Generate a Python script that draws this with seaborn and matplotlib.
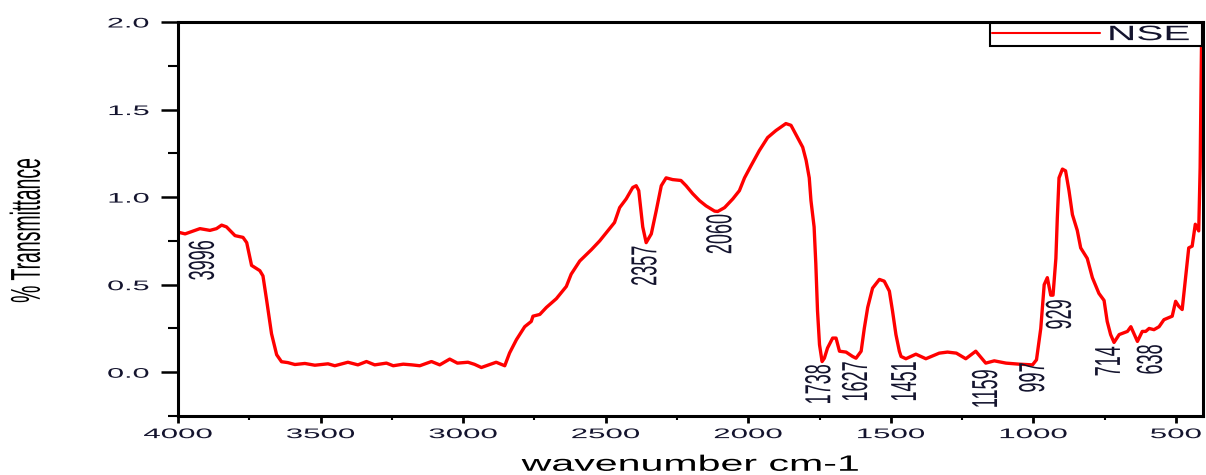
import matplotlib
matplotlib.use("Agg")
import numpy as np
import pandas as pd
import matplotlib.pyplot as plt
import seaborn as sns
from matplotlib.patheffects import AbstractPathEffect
from matplotlib.transforms import Affine2D
from matplotlib.ticker import MultipleLocator

# ---------------- data ----------------
wavenumber = [4000, 3975, 3958, 3923, 3905, 3888, 3865, 3847, 3830, 3800, 3772, 3759,
              3742, 3713, 3702, 3689, 3672, 3654, 3637, 3615, 3590, 3555, 3520, 3474,
              3450, 3404, 3369, 3339, 3310, 3269, 3245, 3210, 3180, 3152, 3111, 3082,
              3047, 3020, 2983, 2960, 2936, 2884, 2854, 2837, 2813, 2784, 2761, 2755,
              2731, 2708, 2673, 2638, 2621, 2591, 2550, 2521, 2486, 2469, 2451, 2428,
              2405, 2393, 2384, 2370, 2358, 2340, 2323, 2305, 2288, 2265, 2236, 2218,
              2195, 2171, 2148, 2118, 2107, 2083, 2054, 2031, 2013, 1990, 1961, 1932,
              1903, 1868, 1850, 1827, 1809, 1797, 1786, 1780, 1769, 1763, 1757, 1750,
              1741, 1733, 1722, 1704, 1692, 1680, 1657, 1634, 1622, 1604, 1593, 1581,
              1564, 1540, 1523, 1505, 1494, 1482, 1470, 1464, 1447, 1412, 1377, 1330,
              1301, 1270, 1237, 1202, 1167, 1137, 1096, 1050, 1003, 989, 974, 962,
              951, 939, 931, 921, 916, 910, 898, 887, 875, 863, 846, 834,
              811, 793, 770, 752, 741, 729, 717, 699, 670, 658, 647, 635,
              618, 606, 594, 577, 559, 542, 513, 501, 490, 478, 466, 455,
              443, 432, 420, 415, 411, 408]
transmittance = [0.80, 0.79, 0.80, 0.82, 0.815, 0.81, 0.82, 0.84, 0.83, 0.78, 0.77, 0.74,
                 0.61, 0.58, 0.55, 0.41, 0.22, 0.10, 0.06, 0.055, 0.044, 0.05, 0.04, 0.048,
                 0.037, 0.057, 0.042, 0.061, 0.042, 0.052, 0.037, 0.046, 0.042, 0.037, 0.061, 0.042,
                 0.075, 0.052, 0.057, 0.045, 0.027, 0.057, 0.037, 0.11, 0.186, 0.26, 0.29, 0.32,
                 0.33, 0.37, 0.42, 0.49, 0.56, 0.635, 0.70, 0.75, 0.82, 0.855, 0.94, 0.99,
                 1.055, 1.065, 1.037, 0.83, 0.74, 0.79, 0.92, 1.065, 1.11, 1.10, 1.095, 1.065,
                 1.02, 0.98, 0.95, 0.92, 0.918, 0.94, 0.99, 1.037, 1.11, 1.18, 1.266, 1.34,
                 1.38, 1.42, 1.41, 1.34, 1.285, 1.21, 1.11, 0.98, 0.83, 0.62, 0.35, 0.157,
                 0.061, 0.08, 0.138, 0.195, 0.195, 0.12, 0.115, 0.09, 0.08, 0.12, 0.25, 0.37,
                 0.48, 0.53, 0.52, 0.463, 0.35, 0.215, 0.12, 0.09, 0.077, 0.103, 0.077, 0.109,
                 0.115, 0.109, 0.077, 0.12, 0.052, 0.065, 0.052, 0.046, 0.042, 0.071, 0.25, 0.50,
                 0.54, 0.44, 0.44, 0.65, 0.88, 1.11, 1.16, 1.15, 1.037, 0.90, 0.81, 0.71,
                 0.65, 0.54, 0.45, 0.41, 0.29, 0.215, 0.17, 0.215, 0.233, 0.26, 0.22, 0.176,
                 0.233, 0.233, 0.25, 0.243, 0.26, 0.30, 0.32, 0.405, 0.377, 0.358, 0.54, 0.71,
                 0.72, 0.845, 0.807, 1.17, 1.74, 2.2]
series_name = "NSE"

peak_labels = ["3996", "2357", "2060", "1738", "1627", "1451", "1159", "997", "929", "714", "638"]
x_ticks = [4000, 3500, 3000, 2500, 2000, 1500, 1000, 500]
y_ticks = [0.0, 0.5, 1.0, 1.5, 2.0]
x_title = "wavenumber cm-1"
y_title = "% Transmittance"

# where each peak label's top end sits (data coordinates)
label_x = [3912, 2360, 2097, 1750, 1621, 1449, 1165, 1000, 906, 734, 587]
label_y = [0.755, 0.721, 0.905, 0.044, 0.061, 0.061, 0.016, 0.056, 0.417, 0.147, 0.159]


# ---------------- horizontal text stretch (the reference is wide-stretched) --------------
class HStretch(AbstractPathEffect):
    def __init__(self, sx, anchor="center"):
        super().__init__()
        self.sx = sx
        self.anchor = anchor

    def draw_path(self, renderer, gc, tpath, affine, rgbFace=None):
        ext = tpath.get_extents(affine)
        if self.anchor == "left":
            cx = ext.x0
        elif self.anchor == "right":
            cx = ext.x1
        else:
            cx = 0.5 * (ext.x0 + ext.x1)
        new_aff = affine + Affine2D().translate(-cx, 0).scale(self.sx, 1.0).translate(cx, 0)
        renderer.draw_path(gc, tpath, new_aff, rgbFace)


TXT = "#14142e"

sns.set_style("ticks")
plt.rcParams["font.family"] = ["Liberation Sans", "DejaVu Sans"]

fig, ax = plt.subplots(figsize=(12.06, 4.75), dpi=100)
fig.subplots_adjust(left=178 / 1206, right=1203 / 1206, top=1 - 22 / 475, bottom=1 - 416 / 475)

df = pd.DataFrame({"wavenumber": wavenumber, "T": transmittance, "series": series_name})
sns.lineplot(data=df, x="wavenumber", y="T", color="#ff0000", lw=2.4, sort=False,
             estimator=None, label=series_name, ax=ax)

ax.set_xlim(4000, 405)
ax.set_ylim(-0.25, 2.0)
ax.set_xticks(x_ticks)
ax.set_yticks(y_ticks)
ax.xaxis.set_minor_locator(MultipleLocator(250))
ax.yaxis.set_minor_locator(MultipleLocator(0.25))

for s in ax.spines.values():
    s.set_linewidth(2.2)
    s.set_color("black")
    s.set_visible(True)

ax.tick_params(axis="y", which="major", direction="out", length=12, width=1.8, pad=9,
               labelsize=10, labelcolor=TXT, color="black")
ax.tick_params(axis="y", which="minor", direction="out", length=7, width=1.5, color="black")
ax.tick_params(axis="x", which="major", direction="out", length=5, width=2.0, pad=3,
               labelsize=10, labelcolor=TXT, color="black")
ax.tick_params(axis="x", which="minor", direction="out", length=3, width=1.5, color="black")

for t in ax.get_xticklabels():
    t.set_path_effects([HStretch(2.25, "center")])
for t in ax.get_yticklabels():
    t.set_path_effects([HStretch(2.2, "right")])

ax.set_ylabel(y_title, fontsize=14, color="black")
ax.yaxis.set_label_coords(-0.147, 0.472)
ax.yaxis.label.set_va("center")
ax.yaxis.label.set_path_effects([HStretch(2.15)])

ax.set_xlabel(x_title, fontsize=16, color="black")
ax.xaxis.set_label_coords(0.5, -0.125)
ax.xaxis.label.set_va("center")
ax.xaxis.label.set_path_effects([HStretch(1.85)])

for lab, lx, ly in zip(peak_labels, label_x, label_y):
    ax.text(lx, ly, lab, rotation=90, ha="center", va="top", fontsize=13, color=TXT,
            path_effects=[HStretch(2.0)])

leg = ax.legend(loc="upper left", bbox_to_anchor=(0.791, 0.0, 0.209, 1.0), mode="expand",
                borderaxespad=0.05, borderpad=0.1, handlelength=5.2, handletextpad=0.4,
                fontsize=15, frameon=True, fancybox=False, framealpha=1, edgecolor="black")
leg.get_frame().set_linewidth(1.5)
for t in leg.get_texts():
    t.set_color(TXT)
    t.set_path_effects([HStretch(1.95, "left")])
for h in leg.get_lines():
    h.set_linewidth(1.5)

fig.savefig("out.png", dpi=100)
